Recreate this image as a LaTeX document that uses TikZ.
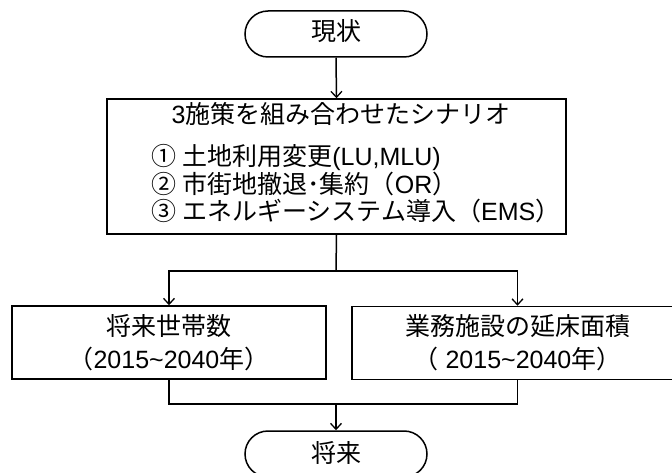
\documentclass[tikz,border=0pt]{standalone}
\usepackage{fontspec}
\setmainfont{Liberation Sans}
\newfontfamily\jp{Noto Sans CJK JP}
\usetikzlibrary{arrows.meta}
\begin{document}
\begin{tikzpicture}[x=1pt,y=-1pt,
  line width=1.5pt,
  every node/.style={font=\fontsize{25}{33}\selectfont, inner sep=0pt},
  term/.style={draw, rounded corners=23pt, minimum width=182pt, minimum height=46pt},
  boxnode/.style={draw, rectangle},
  txt/.style={text height=17pt, text depth=5pt},
  arr/.style={-{Straight Barb[length=6pt,width=11pt,line width=1.3pt]}}
]
\useasboundingbox (0,0) rectangle (672,473);
\node[term] (now) at (336,34) {};
\node[txt] (nowt) at (336,35) {\jp 現状};

\node[boxnode, minimum width=459pt, minimum height=135pt] (main) at (336.5,166.5) {};
\node[txt] (title) at (341,118) {3{\jp 施策を組み合わせたシナリオ}};
\node[txt, anchor=west] (l1) at (151,160) {{\jp ① 土地利用変更}(LU,MLU)};
\node[txt, anchor=west] (l2) at (151,188) {{\jp ② 市街地撤退･集約（}OR{\jp ）}};
\node[txt, anchor=west] (l3) at (151,215) {{\jp ③ エネルギーシステム導入（}EMS{\jp ）}};

\node[boxnode, minimum width=314pt, minimum height=73pt] (left) at (169,342.5) {};
\node[txt] (lt1) at (169,329) {\jp 将来世帯数};
\node[txt] (lt2) at (169,362) {{\jp （}2015\textasciitilde 2040{\jp 年）}};

\node[boxnode, minimum width=331pt, minimum height=73pt] (right) at (517.5,343) {};
\node[txt] (rt1) at (517.5,329) {\jp 業務施設の延床面積};
\node[txt] (rt2) at (517.5,362) {{\jp （} 2015\textasciitilde 2040{\jp 年）}};

\node[term] (fut) at (336,454) {};
\node[txt] (futt) at (336,456) {\jp 将来};

\coordinate (split) at (336,271);
\coordinate (join) at (336,404);

\draw[arr] (now.south) -- (main.north);
\draw (main.south) -- (split);
\draw[arr] (split) -| (left.north);
\draw[arr] (split) -| (right.north);
\draw (left.south) |- (join);
\draw (right.south) |- (join);
\draw[arr] (join) -- (fut.north);
\end{tikzpicture}
\end{document}
